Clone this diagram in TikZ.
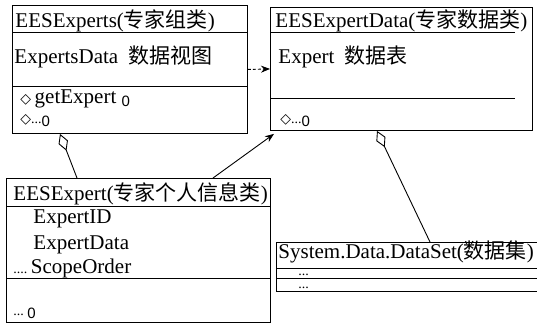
\documentclass[tikz,border=0pt]{standalone}
\usepackage{fontspec}
\setmainfont{Liberation Serif}
\setsansfont{Liberation Sans}
\newfontfamily\cjk{Noto Sans CJK SC}
\newfontfamily\symf{DejaVu Sans}
\usetikzlibrary{arrows.meta}
\newcommand\smallzero{\raisebox{-3pt}{\fontsize{15}{15}\selectfont\sffamily 0}}
\newcommand\opdiamond{{\symf\fontsize{14}{14}\selectfont ◇}}

\begin{document}
\begin{tikzpicture}[x=1pt,y=-1pt,line width=0.9pt,>={Stealth[length=9pt,width=7pt]},
	box/.style={draw,rectangle,anchor=north west,inner sep=0pt},
	txt/.style={anchor=base west,inner sep=0pt,font=\fontsize{21}{21}\selectfont},
	agg/.style={-{Diamond[open,length=18pt,width=10pt]}}]
	\useasboundingbox (0,0) rectangle (537,324);
	\clip (0,0) rectangle (537,324);
	\node[box,minimum width=235pt,minimum height=128pt] (experts) at (12,5) {};
	\node[box,minimum width=262pt,minimum height=123pt] (data) at (270,7) {};
	\node[box,minimum width=264pt,minimum height=144pt] (expert) at (6,178) {};
	\node[box,minimum width=270pt,minimum height=49pt] (dataset) at (276,242) {};
	\draw (experts.north west) ++(0,27) -- ++(235,0)
		(experts.north west) ++(0,81) -- ++(235,0);
	\draw (data.north west) ++(0,25) -- ++(245,0)
		(data.north west) ++(0,91) -- ++(245,0);
	\draw (expert.north west) ++(0,28) -- ++(264,0)
		(expert.north west) ++(0,100) -- ++(264,0);
	\draw (dataset.north west) ++(0,26) -- ++(270,0)
		(dataset.north west) ++(0,36) -- ++(270,0);
	\node[txt] (expertsT) at (15,27) {EESExperts({\cjk 专家组类})};
	\node[txt] (expertsA) at (14,63) {ExpertsData\ \ {\cjk 数据视图}};
	\node[txt] (expertsM1) at (20,103) {\opdiamond\,getExpert \smallzero};
	\node[txt] (expertsM2) at (20,123) {\opdiamond{\fontsize{14}{14}\selectfont...}\smallzero};
	\node[txt] (dataT) at (275,27) {EESExpertData({\cjk 专家数据类})};
	\node[txt] (dataA) at (278,63) {Expert\ \ {\cjk 数据表}};
	\node[txt] (dataM) at (280,123) {\opdiamond{\fontsize{14}{14}\selectfont...}\smallzero};
	\node[txt] (expertT) at (13,200) {EESExpert({\cjk 专家个人信息类})};
	\node[txt] (expertA1) at (33,223) {ExpertID};
	\node[txt] (expertA2) at (33,249) {ExpertData};
	\node[txt] (expertA3) at (13,273) {{\fontsize{14}{14}\selectfont....}\,ScopeOrder};
	\node[txt] (expertM) at (13,315) {{\fontsize{14}{14}\selectfont...}\,\smallzero};
	\node[txt] (datasetT) at (278,258) {System.Data.DataSet({\cjk 数据集})};
	\node[txt] (datasetR1) at (298,275) {\fontsize{14}{14}\selectfont...};
	\node[txt] (datasetR2) at (298,288) {\fontsize{14}{14}\selectfont...};
	\draw[densely dashed,->] (experts.east) -- (data.west);
	\draw[agg] ([xshift=71pt]expert.north west) -- ([xshift=48pt]experts.south west);
	\draw[->] ([xshift=207pt]expert.north west) -- ([xshift=4pt,yshift=-3pt]data.south west);
	\draw[agg] ([xshift=154pt]dataset.north west) -- ([xshift=107pt]data.south west);
\end{tikzpicture}
\end{document}
